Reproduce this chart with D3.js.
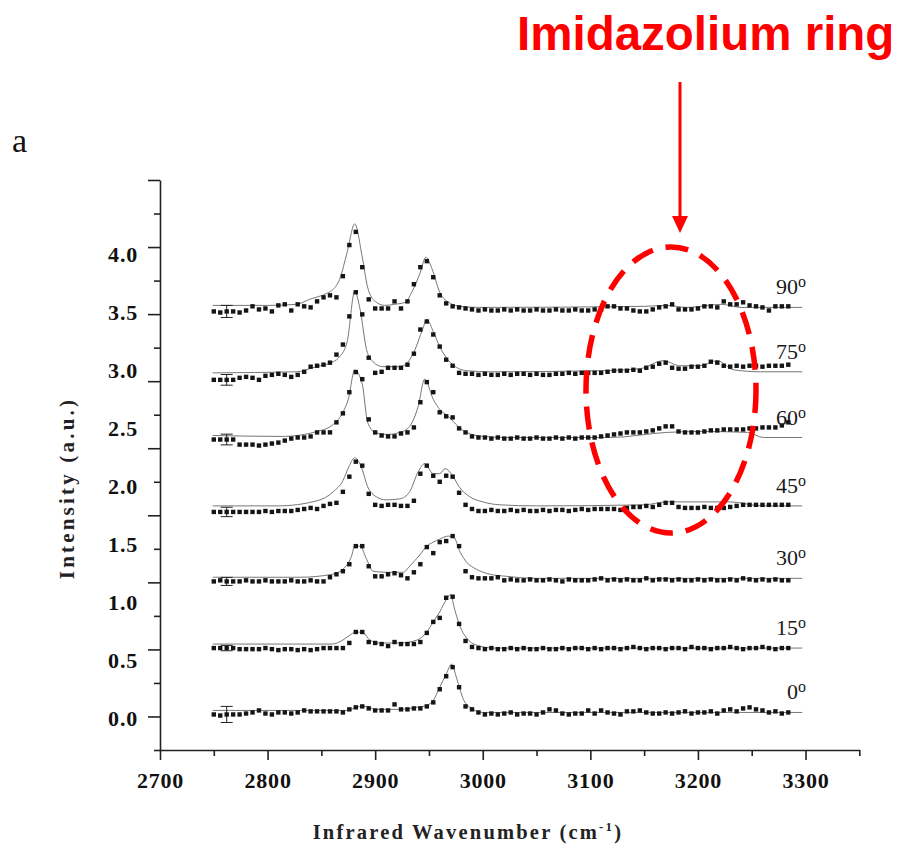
<!DOCTYPE html>
<html><head><meta charset="utf-8">
<script src="https://cdn.jsdelivr.net/npm/d3@7"></script>
<style>body{margin:0;background:#fff}svg{display:block}</style>
</head><body><svg id="c" width="901" height="849"></svg>
<script>
// ---------- DATA ----------
const wavenumbers = [2750,2756,2762,2768,2774,2780,2786,2792,2798,2804,2810,2816,2822,2828,2834,2840,2846,2852,2858,2864,
2870,2876,2882,2888,2894,2900,2906,2912,2918,2924,2930,2936,2942,2948,2954,2960,2966,2972,2978,2984,
2990,2996,3002,3008,3014,3020,3026,3032,3038,3044,3050,3056,3062,3068,3074,3080,3086,3092,3098,3104,
3110,3116,3122,3128,3134,3140,3146,3152,3158,3164,3170,3176,3182,3188,3194,3200,3206,3212,3218,3224,
3230,3236,3242,3248,3254,3260,3266,3272,3278,3284];

const angleLabels = ["0","15","30","45","60","75","90"];
const offsets = [0.03, 0.51, 1.03, 1.57, 2.08, 2.57, 3.05];

const dots0 = [-0.015,-0.023,-0.015,-0.015,-0.015,-0.008,0,0.015,-0.008,-0.015,
 0,0,-0.008,0,0.015,0.008,0.008,0.008,0.008,0.008,
 0,0.023,0.038,0.045,0.03,0.015,0.015,0.015,0.06,0.023,
 0.023,0.03,0.03,0.045,0.075,0.173,0.27,0.338,0.188,0.045,
 0.023,0,-0.015,-0.008,-0.015,-0.008,0,-0.015,-0.008,-0.008,
 -0.015,0,0.023,0.015,-0.008,-0.015,-0.008,-0.008,0.015,-0.008,
 0.015,0,-0.008,-0.015,0.008,0.008,0.015,0,-0.008,-0.008,
 0,-0.008,0,0.008,-0.008,0,0,0.008,-0.008,0.015,
 0.023,0.008,0.03,0.038,0.023,0.015,0,0.008,-0.008,0];
const dots15 = [0,0,0,0,-0.008,-0.008,-0.008,-0.008,0,-0.008,
 -0.015,-0.008,-0.008,-0.015,-0.008,-0.015,-0.008,0,0,0,
 0,0.038,0.12,0.12,0.045,0.038,0.03,0.015,0.045,0.03,
 0.03,0.03,0.045,0.113,0.195,0.225,0.375,0.383,0.18,0.053,
 0.008,0,-0.008,0,-0.008,-0.008,0,-0.008,0,-0.008,
 -0.008,0,-0.008,-0.008,0,-0.008,0,0,-0.008,0,
 -0.008,0,0,-0.008,0,0.008,0,-0.008,0,0,
 -0.008,0,0,-0.008,0.008,0,0,-0.008,0,0,
 0.008,0,-0.008,0,0,0.008,0,-0.008,0,0];
const dots30 = [-0.023,-0.015,-0.023,-0.023,-0.023,-0.015,-0.023,-0.023,-0.015,-0.023,
 -0.023,-0.023,-0.015,-0.023,-0.023,-0.015,-0.023,-0.023,0.008,0.03,
 0.053,0.105,0.24,0.24,0.09,0.015,0.015,0.03,0.038,0.023,
 0,0.045,0.105,0.233,0.188,0.27,0.278,0.315,0.24,0.053,
 0.008,0,0,0,0.008,-0.015,-0.008,-0.015,-0.015,-0.008,
 -0.015,-0.015,-0.008,-0.015,-0.023,-0.008,-0.015,-0.015,-0.015,-0.008,
 0,-0.015,-0.008,-0.015,-0.008,-0.015,-0.015,0,-0.015,-0.008,
 -0.008,-0.015,-0.008,-0.015,-0.015,-0.008,-0.015,-0.008,-0.015,-0.015,
 -0.008,-0.015,0,-0.008,-0.015,-0.008,-0.015,-0.008,-0.015,-0.015];
const dots45 = [-0.045,-0.045,-0.045,-0.045,-0.045,-0.045,-0.045,-0.045,-0.038,-0.045,
 -0.038,-0.038,-0.038,-0.03,-0.023,-0.015,-0.023,0,0.015,0.023,
 0.105,0.218,0.33,0.3,0.09,0.008,0,0.008,0.008,0,
 0,0.038,0.24,0.3,0.225,0.18,0.225,0.218,0.098,0.008,
 -0.023,-0.038,-0.038,-0.03,-0.038,-0.038,-0.03,-0.038,-0.03,-0.038,
 -0.038,-0.03,-0.038,-0.03,-0.03,-0.038,-0.03,-0.023,-0.03,-0.023,
 -0.023,-0.023,-0.023,-0.03,-0.015,-0.008,-0.008,0,-0.008,0.008,
 0.023,0.023,-0.008,-0.015,-0.015,-0.015,-0.008,-0.015,-0.015,-0.015,
 -0.008,0,0.008,0.008,0.008,0.008,0.008,0.008,0.008,0.008];
const dots60 = [-0.015,-0.015,-0.015,-0.015,-0.053,-0.053,-0.053,-0.06,-0.053,-0.045,
 -0.038,-0.023,-0.008,0,0,0.008,0.038,0.038,0.038,0.113,
 0.18,0.338,0.488,0.435,0.135,0.038,0.015,0.008,0.008,0.03,
 0.038,0.075,0.263,0.413,0.338,0.188,0.158,0.15,0.068,0.038,
 0.008,0,0,-0.008,0,-0.008,-0.008,0,-0.008,-0.008,
 0,-0.008,-0.008,0,-0.008,0,-0.008,0,0,0,
 0.008,0.015,0.023,0.03,0.038,0.038,0.038,0.045,0.053,0.068,
 0.083,0.083,0.045,0.038,0.038,0.038,0.045,0.053,0.053,0.06,
 0.06,0.06,0.06,0.068,0.068,0.075,0.075,0.075,0.09,0.113];
const dots75 = [-0.06,-0.06,-0.06,-0.06,-0.045,-0.038,-0.045,-0.06,-0.03,-0.023,
 -0.015,-0.023,-0.038,-0.023,0,0.038,0.045,0.053,0.068,0.128,
 0.203,0.413,0.593,0.428,0.105,-0.008,0,0.03,0.03,0.03,
 0.053,0.135,0.315,0.375,0.278,0.188,0.09,0.045,-0.008,-0.015,
 -0.015,-0.023,-0.015,-0.023,-0.023,-0.015,-0.023,-0.015,-0.015,-0.023,
 -0.015,-0.023,-0.023,-0.015,-0.015,-0.008,-0.015,-0.008,-0.008,-0.008,
 -0.008,0,0.008,0.008,0.008,0.015,0.008,0.03,0.038,0.06,
 0.068,0.03,0.023,0.023,0.038,0.038,0.045,0.075,0.068,0.045,
 0.038,0.045,0.038,0.045,0.045,0.038,0.045,0.045,0.045,0.053];
const dots90 = [-0.03,-0.038,-0.03,-0.03,-0.038,-0.023,0.008,-0.015,-0.008,-0.03,
 0.015,0.023,-0.023,0.023,0.008,0,0.045,0.075,0.09,0.075,
 0.233,0.465,0.563,0.3,0.06,-0.008,-0.008,-0.008,0.045,-0.008,
 0.045,0.173,0.3,0.345,0.225,0.09,0.03,0.008,0,-0.008,
 -0.015,-0.023,-0.015,-0.023,-0.023,-0.015,-0.023,-0.015,-0.023,-0.023,
 -0.015,-0.023,-0.023,-0.015,-0.023,-0.023,-0.015,-0.023,-0.023,-0.015,
 -0.015,0.008,0.008,-0.008,-0.008,-0.023,-0.03,-0.03,-0.015,0,
 0.008,0.023,-0.015,-0.015,-0.015,-0.008,0.008,0.008,0,0.045,
 0.023,0.023,0.038,0.015,0.008,0,-0.023,0.008,0.008,0.008];

// fitted curves: [wavenumber, intensity above the offset]
const fit0 = [[2749,0.015],[2874,0.015],[2880,0.03],[2887,0.045],[2893,0.045],[2899,0.023],[2923,0.023],[2938,0.038],[2948,0.053],[2954,0.09],[2960,0.188],[2966,0.285],[2971,0.36],[2976,0.248],[2982,0.098],[2988,0.038],[3000,0],[3297,0]];
const fit15 = [[2749,0.03],[2860,0.03],[2870,0.06],[2878,0.105],[2882,0.12],[2889,0.113],[2895,0.06],[2904,0.038],[2923,0.038],[2939,0.06],[2948,0.12],[2954,0.195],[2960,0.27],[2966,0.36],[2970,0.398],[2974,0.285],[2979,0.158],[2985,0.075],[2994,0.023],[3010,0],[3297,0]];
const fit30 = [[2749,0.008],[2830,0.008],[2860,0.03],[2870,0.068],[2878,0.165],[2881,0.24],[2886,0.24],[2892,0.143],[2898,0.053],[2911,0.045],[2926,0.045],[2932,0.09],[2942,0.18],[2948,0.24],[2954,0.27],[2960,0.293],[2968,0.315],[2973,0.308],[2979,0.195],[2985,0.12],[2994,0.068],[3007,0.03],[3022,0.015],[3050,0],[3297,0]];
const fit45 = [[2749,0],[2810,0],[2846,0.038],[2861,0.105],[2870,0.188],[2876,0.3],[2881,0.36],[2887,0.293],[2893,0.143],[2901,0.068],[2910,0.045],[2923,0.053],[2932,0.105],[2940,0.255],[2946,0.315],[2954,0.24],[2960,0.24],[2965,0.278],[2972,0.225],[2978,0.143],[2988,0.068],[3000,0.03],[3016,0.008],[3050,0],[3150,0.008],[3171,0.03],[3230,0.03],[3260,0],[3297,0]];
const fit60 = [[2749,0.015],[2814,0.008],[2846,0.045],[2861,0.098],[2870,0.188],[2875,0.285],[2881,0.503],[2888,0.398],[2893,0.113],[2900,0.038],[2911,0.023],[2923,0.038],[2932,0.083],[2940,0.233],[2946,0.435],[2954,0.285],[2960,0.21],[2968,0.158],[2977,0.083],[2985,0.038],[3000,0.008],[3020,0],[3118,0],[3171,0.038],[3202,0.045],[3246,0.038],[3261,0],[3297,0]];
const fit75 = [[2749,-0.008],[2827,0],[2845,0.038],[2861,0.075],[2867,0.113],[2874,0.225],[2881,0.6],[2886,0.465],[2892,0.165],[2898,0.075],[2907,0.038],[2923,0.038],[2930,0.068],[2937,0.165],[2944,0.315],[2948,0.39],[2954,0.3],[2960,0.188],[2970,0.068],[2985,0.008],[3007,0],[3109,0.008],[3146,0.023],[3168,0.083],[3183,0.045],[3202,0.045],[3218,0.083],[3233,0.015],[3258,0],[3297,0]];
const fit90 = [[2749,0.015],[2800,0.015],[2827,0.023],[2839,0.06],[2855,0.105],[2861,0.135],[2867,0.21],[2874,0.413],[2881,0.623],[2888,0.375],[2893,0.15],[2900,0.045],[2909,0.015],[2918,0.023],[2928,0.038],[2934,0.113],[2942,0.263],[2947,0.375],[2953,0.285],[2960,0.113],[2970,0.03],[2979,0.008],[2997,0],[3150,0.008],[3170,0.015],[3190,0],[3222,0.023],[3240,0],[3297,0]];

const errHalf = [0.06, 0.02, 0.03, 0.035, 0.04, 0.04, 0.045];
const errWave = 2762;

const yTickValues = [-0.25,0,0.25,0.5,0.75,1,1.25,1.5,1.75,2,2.25,2.5,2.75,3,3.25,3.5,3.75,4];
const yLabelValues = [0,0.5,1,1.5,2,2.5,3,3.5,4];
const xTickValues = [2700,2750,2800,2850,2900,2950,3000,3050,3100,3150,3200,3250,3300,3350];
const xLabelValues = [2700,2800,2900,3000,3100,3200,3300];

const dotSeries = [dots0,dots15,dots30,dots45,dots60,dots75,dots90];
const fitSeries = [fit0,fit15,fit30,fit45,fit60,fit75,fit90];

// ---------- CHART ----------
const serif = "'Liberation Serif','Times New Roman',Times,serif";
const svg = d3.select("#c");
const x = d3.scaleLinear().domain([2700, 3350]).range([160, 859.3]);
const y = d3.scaleLinear().domain([-0.25, 4.0]).range([750, 180]);
const yLab = d3.scaleLinear().domain([0, 4]).range([718, 254]);

// x axis
const gx = svg.append("g").attr("transform", "translate(0,750)")
  .call(d3.axisBottom(x).tickValues(xTickValues).tickSize(10).tickSizeOuter(0).tickPadding(12)
    .tickFormat(d => xLabelValues.includes(d) ? String(d) : ""));
gx.selectAll(".tick line").attr("y2", d => d % 100 === 0 ? 10 : 6);
gx.selectAll("line,path").attr("stroke", "#222").attr("stroke-width", 1.6);
gx.selectAll("text").attr("font-family", serif).attr("font-weight", "bold").attr("font-size", 22)
  .attr("letter-spacing", 0.8).attr("fill", "#111");

// y axis (tick marks)
const gy = svg.append("g").attr("transform", "translate(160,0)")
  .call(d3.axisLeft(y).tickValues(yTickValues).tickSize(12).tickSizeOuter(0).tickFormat(""));
gy.selectAll(".tick line").attr("x2", d => (Math.round(d * 4) % 2 === 0) ? -12 : -6);
gy.selectAll("line,path").attr("stroke", "#222").attr("stroke-width", 1.6);

// y axis labels
const gyl = svg.append("g").attr("transform", "translate(160,0)")
  .call(d3.axisLeft(yLab).tickValues(yLabelValues).tickSize(0).tickPadding(22).tickFormat(d3.format(".1f")));
gyl.select(".domain").remove();
gyl.selectAll("text").attr("font-family", serif).attr("font-weight", "bold").attr("font-size", 22)
  .attr("letter-spacing", 0.8).attr("fill", "#111");

// series
const line = d3.line().curve(d3.curveMonotoneX);
dotSeries.forEach((vals, si) => {
  const off = offsets[si];
  const g = svg.append("g");
  g.append("path")
    .attr("d", line(fitSeries[si].map(p => [x(p[0]), y(off + p[1])])))
    .attr("fill", "none").attr("stroke", "#777").attr("stroke-width", 1);
  // error bar
  const ex = x(errWave), ey0 = y(off + vals[2] - errHalf[si]), ey1 = y(off + vals[2] + errHalf[si]);
  g.append("line").attr("x1", ex).attr("x2", ex).attr("y1", ey0).attr("y2", ey1).attr("stroke", "#222").attr("stroke-width", 1);
  [ey0, ey1].forEach(yy => g.append("line").attr("x1", ex - 6).attr("x2", ex + 6).attr("y1", yy).attr("y2", yy).attr("stroke", "#222").attr("stroke-width", 1));
  g.selectAll("rect").data(vals).join("rect")
    .attr("x", (v, i) => x(wavenumbers[i]) - 2.2)
    .attr("y", v => y(off + v) - 2.2)
    .attr("width", 4.4).attr("height", 4.4)
    .attr("fill", "#151515");
  const t = svg.append("text").attr("x", 806).attr("y", y(off) - 13)
    .attr("text-anchor", "end").attr("font-family", serif).attr("font-size", 22).attr("fill", "#1a1a1a");
  t.append("tspan").text(angleLabels[si]);
  t.append("tspan").attr("font-size", 16).attr("dy", -7).text("o");
});

// titles
svg.append("text").attr("transform", "translate(74,488) rotate(-90)")
  .attr("text-anchor", "middle").attr("font-family", serif).attr("font-weight", "bold").attr("font-size", 21)
  .attr("letter-spacing", 3.2).attr("fill", "#222")
  .text("Intensity (a.u.)");
const xt = svg.append("text").attr("x", 468).attr("y", 839).attr("text-anchor", "middle")
  .attr("font-family", serif).attr("font-weight", "bold").attr("font-size", 20.5)
  .attr("letter-spacing", 2.2).attr("fill", "#222");
xt.append("tspan").text("Infrared Wavenumber (cm");
xt.append("tspan").attr("font-size", 13).attr("dy", -8).text("-1");
xt.append("tspan").attr("dy", 8).text(")");

svg.append("text").attr("x", 12).attr("y", 152).attr("font-family", serif).attr("font-size", 34).attr("fill", "#111").text("a");

// annotation
const red = "#ff0000";
svg.append("text").attr("x", 517).attr("y", 50).attr("font-family", "'Liberation Sans',Arial,Helvetica,sans-serif")
  .attr("font-weight", "bold").attr("font-size", 47.5).attr("fill", red).text("Imidazolium ring");
svg.append("line").attr("x1", 680).attr("x2", 680).attr("y1", 82).attr("y2", 220).attr("stroke", red).attr("stroke-width", 3);
svg.append("path").attr("d", "M672,216 L688,216 L680,233 Z").attr("fill", red);
svg.append("ellipse").attr("cx", 671).attr("cy", 390).attr("rx", 85).attr("ry", 143)
  .attr("fill", "none").attr("stroke", red).attr("stroke-width", 5.5).attr("stroke-dasharray", "23 13");
</script></body></html>
